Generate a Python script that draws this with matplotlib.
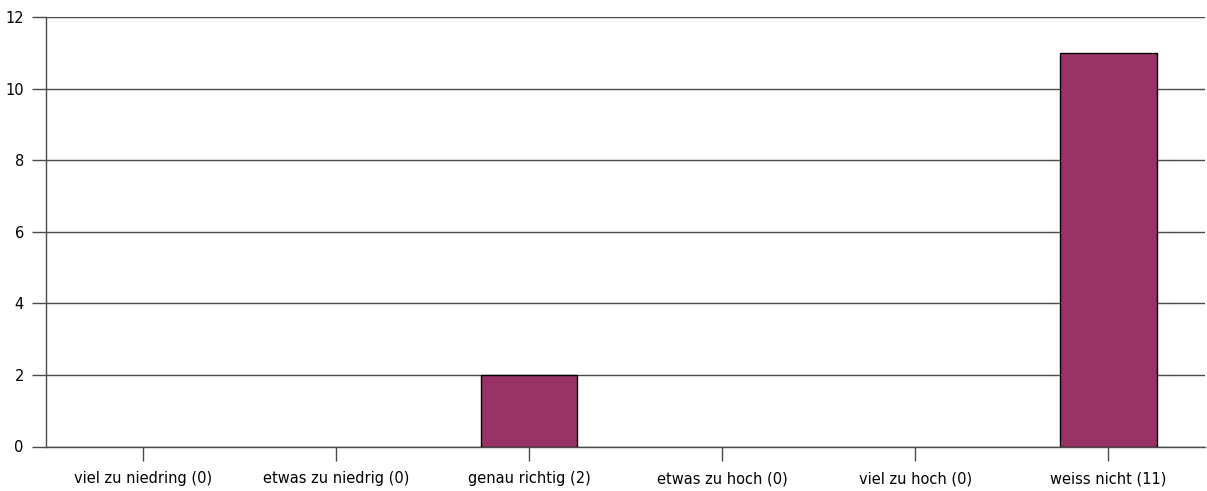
import matplotlib
matplotlib.use("Agg")
import matplotlib.pyplot as plt
import numpy as np

# --- Data ---
categories = ["viel zu niedring (0)", "etwas zu niedrig (0)", "genau richtig (2)",
              "etwas zu hoch (0)", "viel zu hoch (0)", "weiss nicht (11)"]
counts = [0, 0, 2, 0, 0, 11]
y_ticks = [0, 2, 4, 6, 8, 10, 12]

BAR_COLOR = "#993366"
LINE_COLOR = "#4a4a4a"

fig = plt.figure(figsize=(12.07, 4.91), dpi=100)
ax = fig.add_axes([46 / 1207, 1 - 446.5 / 491, (1205 - 46) / 1207, (446.5 - 17) / 491])

x = np.arange(len(categories))
# zero-height bars get no outline, like the original
edge_w = [1.0 if c > 0 else 0.0 for c in counts]
ax.bar(x, counts, width=0.5, color=BAR_COLOR, edgecolor="black", linewidth=edge_w, zorder=3)

ax.set_xlim(-0.5, len(categories) - 0.5)
ax.set_ylim(0, 12)
ax.set_yticks(y_ticks)
ax.set_xticks(x)
ax.set_xticklabels(categories)

ax.grid(axis="y", color=LINE_COLOR, linewidth=1.0, zorder=0)
for side in ["top", "right"]:
    ax.spines[side].set_visible(False)
for side in ["left", "bottom"]:
    ax.spines[side].set_color(LINE_COLOR)
    ax.spines[side].set_linewidth(1.0)
    ax.spines[side].set_zorder(4)

ax.tick_params(axis="y", length=10, width=1.0, color=LINE_COLOR, labelsize=10.5, pad=6)
ax.tick_params(axis="x", length=10, width=1.0, color=LINE_COLOR, labelsize=10.5, pad=8)

fig.savefig("out.png", dpi=100)
